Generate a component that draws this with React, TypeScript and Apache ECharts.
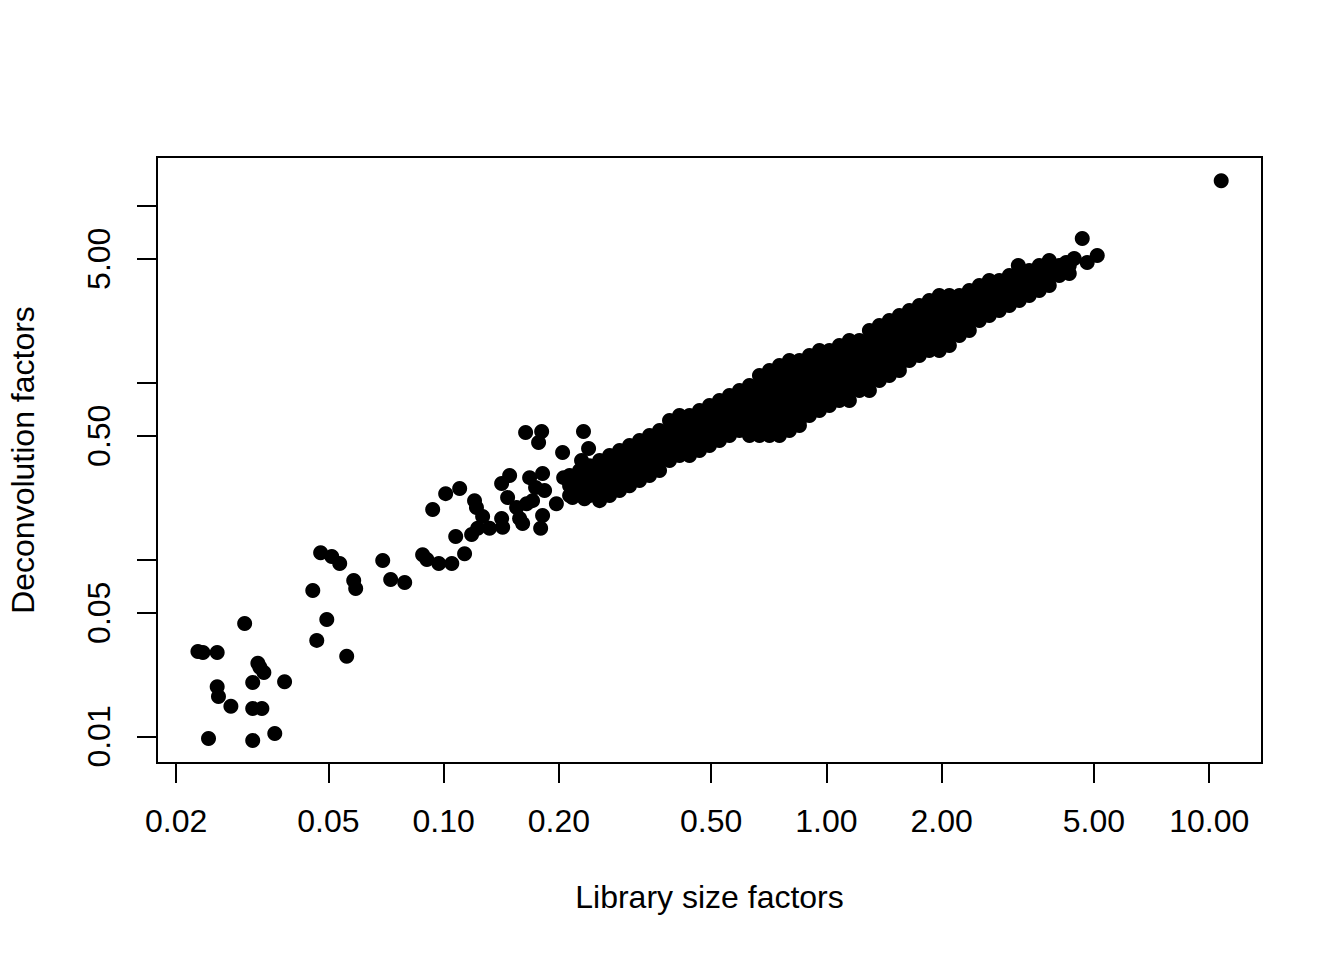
import React, { useEffect, useRef } from "react";
import * as echarts from "echarts";

// Tick positions (data values)
const xTicks = [0.02, 0.05, 0.1, 0.2, 0.5, 1, 2, 5, 10];
const yTicks = [0.01, 0.05, 0.1, 0.5, 1, 5, 10];
const yTickLabels = [0.01, 0.05, 0.5, 5];

// [library size factor, deconvolution factor]
const lowCells: [number, number][] = [
  [0.0228, 0.0302], [0.0235, 0.0298], [0.0256, 0.0298], [0.0302, 0.0435],
  [0.0327, 0.0259], [0.0331, 0.0246], [0.0339, 0.023], [0.0317, 0.0202],
  [0.0384, 0.0204], [0.0256, 0.0191], [0.0258, 0.0168], [0.0278, 0.0148],
  [0.0317, 0.0144], [0.0335, 0.0144], [0.0243, 0.00975], [0.0317, 0.0095],
  [0.0362, 0.0104],
];

const midCells: [number, number][] = [
  [0.0455, 0.0668], [0.0495, 0.0458], [0.0466, 0.0349], [0.0558, 0.0284],
  [0.0477, 0.109], [0.051, 0.104], [0.0535, 0.0949], [0.0582, 0.0761],
  [0.0589, 0.0686], [0.0693, 0.0987], [0.0727, 0.0771], [0.0791, 0.0742],
  [0.0881, 0.1063], [0.0904, 0.1], [0.0971, 0.0949], [0.105, 0.0949],
  [0.0936, 0.1915], [0.1012, 0.2355], [0.1101, 0.2514], [0.1075, 0.1349],
  [0.1183, 0.1384], [0.1134, 0.1077],
];

const riseCells: [number, number][] = [
  [0.1204, 0.215], [0.1218, 0.1966], [0.1264, 0.175], [0.1227, 0.15],
  [0.1318, 0.15], [0.1417, 0.2683], [0.1487, 0.298], [0.1469, 0.2237],
  [0.1417, 0.1705], [0.1426, 0.152], [0.1551, 0.1966], [0.1579, 0.1705],
  [0.1608, 0.1596], [0.1647, 0.2067], [0.1637, 0.522], [0.1803, 0.529],
  [0.177, 0.458], [0.1677, 0.29], [0.1813, 0.306], [0.1738, 0.255],
  [0.1835, 0.245], [0.1707, 0.215], [0.197, 0.2067], [0.1792, 0.15],
  [0.1813, 0.177], [0.2045, 0.402], [0.2058, 0.29], [0.217, 0.2237],
  [0.2292, 0.362], [0.2319, 0.529], [0.2391, 0.424], [0.2333, 0.2206],
];

// dense band: [library size factor, deconvolution factors of the cells there]
const bandColumns: [number, number[]][] = [
  [0.2133, [0.298, 0.261, 0.23]],
  [0.2265, [0.318, 0.279, 0.245]],
  [0.2405, [0.339, 0.298, 0.261, 0.23]],
  [0.2555, [0.362, 0.318, 0.279, 0.245, 0.215]],
  [0.2713, [0.387, 0.339, 0.298, 0.261, 0.23]],
  [0.2881, [0.413, 0.362, 0.318, 0.279, 0.245]],
  [0.3059, [0.44, 0.387, 0.339, 0.298, 0.261]],
  [0.3249, [0.47, 0.413, 0.362, 0.318, 0.279]],
  [0.345, [0.502, 0.44, 0.387, 0.339, 0.298]],
  [0.3664, [0.536, 0.47, 0.413, 0.362, 0.318]],
  [0.3891, [0.61, 0.536, 0.47, 0.413, 0.362]],
  [0.4132, [0.651, 0.571, 0.502, 0.44, 0.387]],
  [0.4388, [0.651, 0.571, 0.502, 0.44, 0.387]],
  [0.466, [0.695, 0.61, 0.536, 0.47, 0.413]],
  [0.4949, [0.741, 0.651, 0.571, 0.502, 0.44]],
  [0.5255, [0.791, 0.695, 0.61, 0.536, 0.47]],
  [0.5581, [0.844, 0.741, 0.651, 0.571, 0.502]],
  [0.5927, [0.901, 0.791, 0.695, 0.61, 0.536]],
  [0.6294, [0.961, 0.844, 0.741, 0.651, 0.571, 0.502]],
  [0.6684, [1.095, 0.961, 0.844, 0.741, 0.651, 0.571, 0.502]],
  [0.7098, [1.169, 1.026, 0.901, 0.791, 0.695, 0.61, 0.536, 0.502]],
  [0.7538, [1.247, 1.095, 0.961, 0.844, 0.741, 0.651, 0.571, 0.502]],
  [0.8005, [1.331, 1.169, 1.026, 0.901, 0.791, 0.695, 0.61, 0.536]],
  [0.8501, [1.331, 1.169, 1.026, 0.901, 0.791, 0.695, 0.61, 0.571]],
  [0.9028, [1.42, 1.247, 1.095, 0.961, 0.844, 0.741, 0.651]],
  [0.9588, [1.516, 1.331, 1.169, 1.026, 0.901, 0.791, 0.695]],
  [1.018, [1.516, 1.331, 1.169, 1.026, 0.901, 0.791, 0.741]],
  [1.081, [1.618, 1.42, 1.247, 1.095, 0.961, 0.844, 0.791]],
  [1.148, [1.727, 1.516, 1.331, 1.169, 1.026, 0.901, 0.791]],
  [1.219, [1.727, 1.516, 1.331, 1.169, 1.026, 0.901]],
  [1.295, [1.967, 1.727, 1.516, 1.331, 1.169, 1.026, 0.901]],
  [1.375, [2.098, 1.843, 1.618, 1.42, 1.247, 1.095, 1.026]],
  [1.46, [2.24, 1.967, 1.727, 1.516, 1.331, 1.169, 1.095]],
  [1.551, [2.39, 2.098, 1.843, 1.618, 1.42, 1.247, 1.169]],
  [1.647, [2.551, 2.24, 1.967, 1.727, 1.516, 1.331]],
  [1.749, [2.722, 2.39, 2.098, 1.843, 1.618, 1.42]],
  [1.857, [2.906, 2.551, 2.24, 1.967, 1.727, 1.516]],
  [1.972, [3.101, 2.722, 2.39, 2.098, 1.843, 1.618, 1.516]],
  [2.095, [3.101, 2.722, 2.39, 2.098, 1.843, 1.618]],
  [2.225, [3.101, 2.722, 2.39, 2.098, 1.843]],
  [2.362, [3.31, 2.906, 2.551, 2.24, 1.967]],
  [2.509, [3.531, 3.101, 2.722, 2.39, 2.24]],
  [2.664, [3.769, 3.31, 2.906, 2.551, 2.39]],
  [2.829, [3.769, 3.31, 2.906, 2.551]],
  [3.005, [4.022, 3.531, 3.101, 2.722]],
  [3.191, [4.293, 3.769, 3.31, 2.906]],
  [3.388, [4.293, 3.769, 3.31, 3.101]],
  [3.598, [4.581, 4.022, 3.531, 3.31]],
  [3.821, [4.581, 4.022, 3.531]],
  [4.058, [4.581, 4.022]],
  [4.31, [4.581, 4.129]],
];

const highCells: [number, number][] = [
  [3.172, 4.581], [3.821, 4.89], [4.23, 4.766], [4.44, 5.02],
  [4.66, 6.51], [5.1, 5.217], [4.8, 4.766], [10.75, 13.8],
];

const FONT = "'Liberation Sans', Arial, Helvetica, sans-serif";

function fmt(v: number): string {
  return Math.pow(10, v).toFixed(2);
}

export default function App() {
  const ref = useRef<HTMLDivElement>(null);

  useEffect(() => {
    if (!ref.current) return;
    const chart = echarts.init(ref.current, undefined, { renderer: "svg" });

    const pts: [number, number][] = [];
    const add = (x: number, y: number) => pts.push([Math.log10(x), Math.log10(y)]);
    lowCells.forEach(([x, y]) => add(x, y));
    midCells.forEach(([x, y]) => add(x, y));
    riseCells.forEach(([x, y]) => add(x, y));
    bandColumns.forEach(([x, ys]) => ys.forEach((y) => add(x, y)));
    highCells.forEach(([x, y]) => add(x, y));

    const labelStyle = { color: "#000", fontSize: 32, fontFamily: FONT };

    chart.setOption({
      animation: false,
      backgroundColor: "#ffffff",
      grid: {
        left: 157,
        top: 157,
        width: 1105,
        height: 606,
        show: true,
        borderColor: "#000",
        borderWidth: 2,
        backgroundColor: "transparent",
        containLabel: false,
        outerBoundsMode: "none",
      },
      xAxis: {
        type: "value",
        position: "bottom",
        min: -1.749,
        max: 1.138,
        axisLine: { show: false, onZero: false },
        splitLine: { show: false },
        axisTick: {
          show: true,
          inside: false,
          length: 20,
          lineStyle: { color: "#000", width: 2 },
          customValues: xTicks.map((v) => Math.log10(v)),
        },
        axisLabel: {
          ...labelStyle,
          margin: 42,
          customValues: xTicks.map((v) => Math.log10(v)),
          formatter: fmt,
        },
        name: "Library size factors",
        nameLocation: "middle",
        nameGap: 118,
        nameTextStyle: labelStyle,
      },
      yAxis: {
        type: "value",
        position: "left",
        min: -2.15,
        max: 1.274,
        axisLine: { show: false, onZero: false },
        splitLine: { show: false },
        axisTick: {
          show: true,
          inside: false,
          length: 20,
          lineStyle: { color: "#000", width: 2 },
          customValues: yTicks.map((v) => Math.log10(v)),
        },
        axisLabel: {
          ...labelStyle,
          margin: 42,
          rotate: 90,
          customValues: yTickLabels.map((v) => Math.log10(v)),
          formatter: fmt,
        },
        name: "Deconvolution factors",
        nameLocation: "middle",
        nameGap: 118,
        nameTextStyle: labelStyle,
      },
      series: [
        {
          type: "scatter",
          data: pts,
          symbol: "circle",
          symbolSize: 15,
          itemStyle: { color: "#000", opacity: 1 },
          silent: true,
          large: false,
          progressive: 0,
        },
      ],
    });

    return () => chart.dispose();
  }, []);

  return (
    <div
      ref={ref}
      style={{ position: "fixed", left: 0, top: 0, width: 1344, height: 960, background: "#fff" }}
    />
  );
}
